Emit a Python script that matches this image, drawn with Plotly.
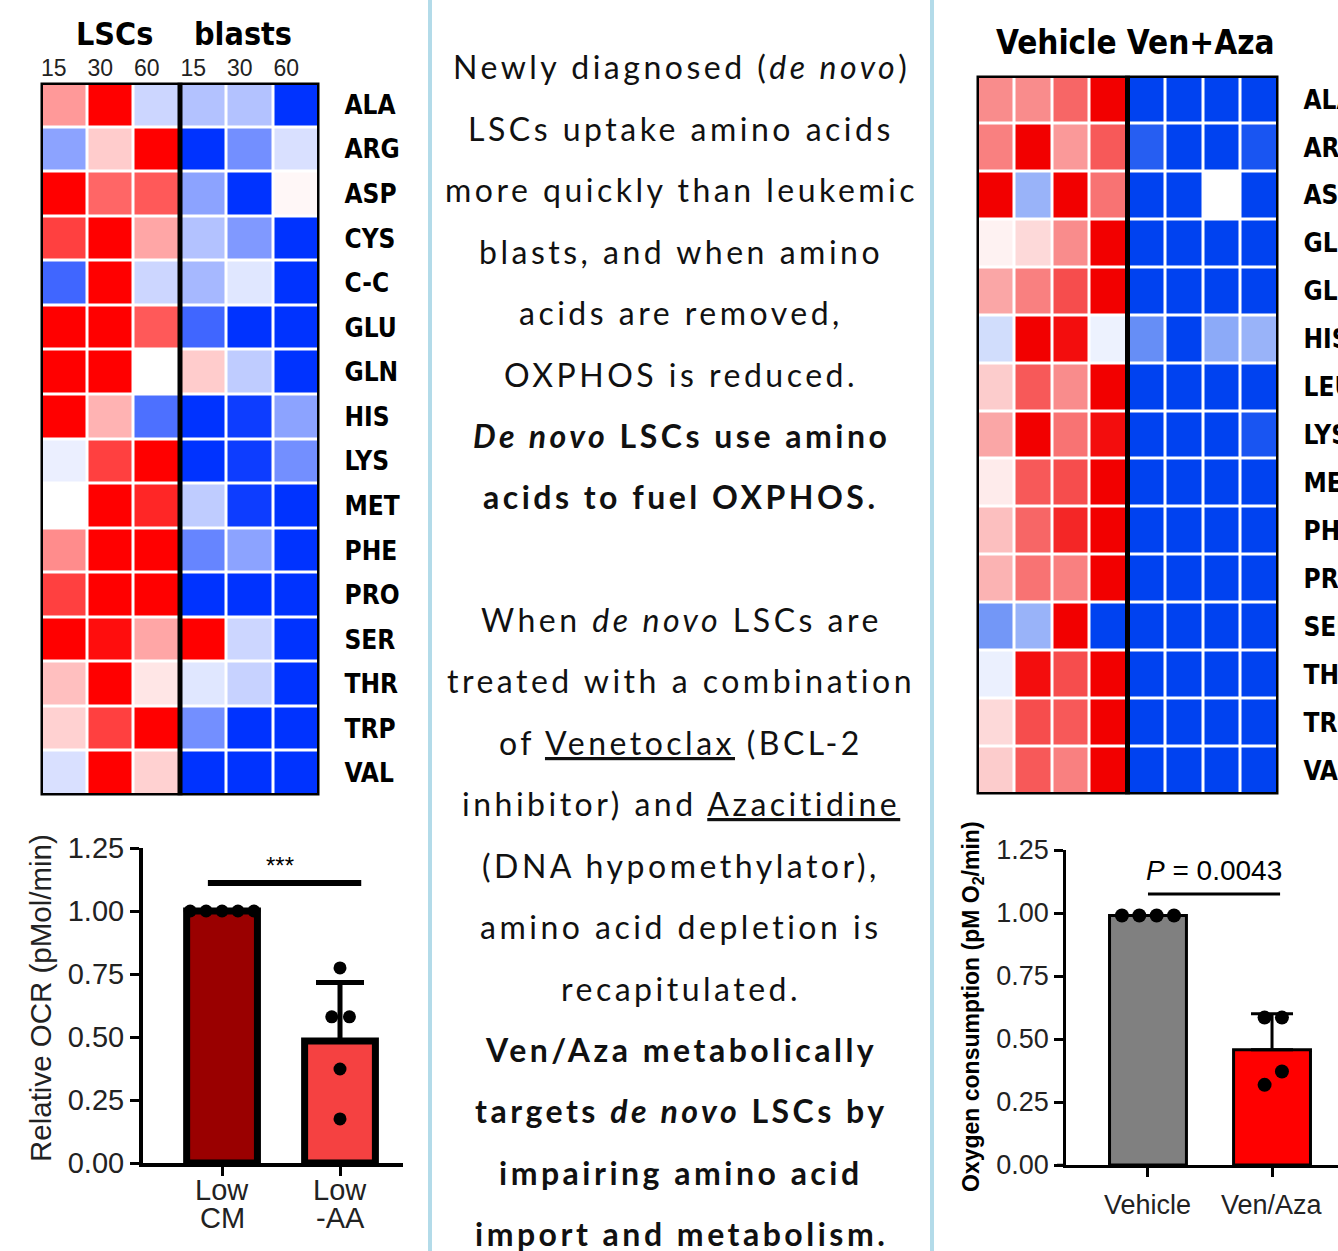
import plotly.graph_objects as go

W, H = 1338, 1251

# ---------------- data ----------------
lsc_rows = ["ALA", "ARG", "ASP", "CYS", "C-C", "GLU", "GLN", "HIS",
            "LYS", "MET", "PHE", "PRO", "SER", "THR", "TRP", "VAL"]
lsc_cols = ["15", "30", "60", "15", "30", "60"]
lsc_groups = ["LSCs", "blasts"]
lsc_values = [
    [0.40, 1.00, -0.20, -0.30, -0.30, -1.00],
    [-0.45, 0.20, 1.00, -1.00, -0.55, -0.15],
    [1.00, 0.60, 0.65, -0.45, -1.00, 0.03],
    [0.75, 1.00, 0.35, -0.30, -0.50, -1.00],
    [-0.75, 1.00, -0.20, -0.35, -0.12, -1.00],
    [1.00, 1.00, 0.65, -0.75, -1.00, -1.00],
    [1.00, 1.00, 0.00, 0.20, -0.25, -1.00],
    [1.00, 0.30, -0.70, -1.00, -0.95, -0.45],
    [-0.08, 0.75, 1.00, -1.00, -0.95, -0.55],
    [0.00, 1.00, 0.85, -0.25, -0.95, -1.00],
    [0.45, 1.00, 1.00, -0.60, -0.45, -1.00],
    [0.75, 1.00, 1.00, -1.00, -1.00, -1.00],
    [1.00, 0.95, 0.35, 1.00, -0.20, -1.00],
    [0.25, 1.00, 0.10, -0.12, -0.22, -1.00],
    [0.18, 0.75, 1.00, -0.55, -1.00, -1.00],
    [-0.15, 1.00, 0.18, -1.00, -1.00, -1.00],
]

trt_rows = ["ALA", "ARG", "ASP", "GLU", "GLN", "HIS", "LEU", "LYS",
            "MET", "PHE", "PRO", "SER", "THR", "TRP", "VAL"]
trt_cols = ["V1", "V2", "V3", "V4", "VA1", "VA2", "VA3", "VA4"]
trt_title = "Vehicle Ven+Aza"
trt_values = [
    [0.45, 0.45, 0.60, 1.00, -1.00, -1.00, -1.00, -1.00],
    [0.50, 1.00, 0.40, 0.65, -0.85, -1.00, -1.00, -0.90],
    [1.00, -0.40, 1.00, 0.55, -1.00, -1.00, 0.00, -1.00],
    [0.05, 0.15, 0.45, 1.00, -1.00, -1.00, -1.00, -1.00],
    [0.35, 0.50, 0.70, 1.00, -1.00, -1.00, -1.00, -1.00],
    [-0.18, 1.00, 0.95, -0.07, -0.60, -1.00, -0.45, -0.40],
    [0.20, 0.65, 0.45, 1.00, -1.00, -1.00, -1.00, -1.00],
    [0.35, 1.00, 0.55, 0.95, -1.00, -1.00, -1.00, -0.90],
    [0.08, 0.65, 0.70, 1.00, -1.00, -1.00, -1.00, -1.00],
    [0.25, 0.60, 0.85, 1.00, -1.00, -1.00, -1.00, -1.00],
    [0.30, 0.55, 0.50, 1.00, -1.00, -1.00, -1.00, -1.00],
    [-0.55, -0.40, 1.00, -1.00, -1.00, -1.00, -1.00, -1.00],
    [-0.08, 0.95, 0.70, 1.00, -1.00, -1.00, -1.00, -1.00],
    [0.15, 0.70, 0.65, 1.00, -1.00, -1.00, -1.00, -1.00],
    [0.20, 0.65, 0.50, 1.00, -1.00, -1.00, -1.00, -1.00],
]

ocr_groups = ["Low<br>CM", "Low<br>-AA"]
ocr_means = [1.00, 0.484]
ocr_sd_upper = [0.0, 0.232]
ocr_points_cm = [1.0, 1.0, 1.0, 1.0, 1.0]
ocr_points_aa = [0.774, 0.58, 0.58, 0.373, 0.175]
ocr_sig = "***"
ocr_ylabel = "Relative OCR (pMol/min)"

o2_groups = ["Vehicle", "Ven/Aza"]
o2_means = [0.99, 0.457]
o2_sd_upper = [0.0, 0.143]
o2_points_vehicle = [0.99, 0.99, 0.99, 0.99]
o2_points_venaza = [0.585, 0.585, 0.371, 0.318]
o2_sig = "<i>P</i> = 0.0043"
o2_ylabel = "<b>Oxygen consumption (pM O<sub>2</sub>/min)</b>"

yticks = [0, 0.25, 0.5, 0.75, 1.0, 1.25]

text_lines = [
    "Newly diagnosed (<i>de novo</i>)",
    "LSCs uptake amino acids",
    "more quickly than leukemic",
    "blasts, and when amino",
    "acids are removed,",
    "OXPHOS is reduced.",
    "<b><i>De novo</i> LSCs use amino</b>",
    "<b>acids to fuel OXPHOS.</b>",
    "",
    "When <i>de novo</i> LSCs are",
    "treated with a combination",
    "of <u>Venetoclax</u> (BCL-2",
    "inhibitor) and <u>Azacitidine</u>",
    "(DNA hypomethylator),",
    "amino acid depletion is",
    "recapitulated.",
    "<b>Ven/Aza metabolically</b>",
    "<b>targets <i>de novo</i> LSCs by</b>",
    "<b>impairing amino acid</b>",
    "<b>import and metabolism.</b>",
]

# jitter offsets of dots (layout only)
jit_cm = [-0.27, -0.135, 0.0, 0.135, 0.27]
jit_aa = [0.0, -0.07, 0.08, 0.0, 0.0]
jit_veh = [-0.21, -0.07, 0.07, 0.21]
jit_va = [-0.06, 0.08, 0.08, -0.06]

# ---------------- helpers ----------------
def fx(px):
    return px / W


def fy(py):
    return 1 - py / H


COND = "DejaVu Sans Condensed, Liberation Sans Narrow, sans-serif"
ARIAL = "Liberation Sans, Arial, sans-serif"
TEXTF = "Lato, Open Sans, sans-serif"

fig = go.Figure()

# ---------------- heatmaps ----------------
fig.add_trace(go.Heatmap(
    z=lsc_values, x=list(range(len(lsc_cols))), y=list(range(len(lsc_rows))),
    zmin=-1, zmax=1, showscale=False, xgap=3, ygap=3,
    colorscale=[[0, "#0033ff"], [0.5, "#ffffff"], [1, "#ff0000"]],
    xaxis="x", yaxis="y", hoverinfo="skip"))

fig.add_trace(go.Heatmap(
    z=trt_values, x=list(range(len(trt_cols))), y=list(range(len(trt_rows))),
    zmin=-1, zmax=1, showscale=False, xgap=3, ygap=3,
    colorscale=[[0, "#0042f0"], [0.5, "#ffffff"], [1, "#f20000"]],
    xaxis="x2", yaxis="y2", hoverinfo="skip"))

# ---------------- left bar chart ----------------
fig.add_trace(go.Bar(
    x=[0, 1], y=ocr_means, width=0.6,
    marker=dict(color=["#9a0000", "#f54141"], line=dict(color="black", width=7)),
    xaxis="x3", yaxis="y3", hoverinfo="skip"))
fig.add_trace(go.Scatter(
    x=[1], y=[ocr_means[1]], mode="markers", marker=dict(size=1, color="rgba(0,0,0,0)"),
    error_y=dict(type="data", symmetric=False, array=[ocr_sd_upper[1]], arrayminus=[0],
                 color="black", thickness=5, width=24),
    xaxis="x3", yaxis="y3", hoverinfo="skip"))
fig.add_trace(go.Scatter(
    x=[0 + j for j in jit_cm] + [1 + j for j in jit_aa],
    y=ocr_points_cm + ocr_points_aa, mode="markers",
    marker=dict(size=13, color="black"), xaxis="x3", yaxis="y3", hoverinfo="skip"))

# ---------------- right bar chart ----------------
fig.add_trace(go.Bar(
    x=[0, 1], y=o2_means, width=0.62,
    marker=dict(color=["#808080", "#ff0000"], line=dict(color="black", width=3)),
    xaxis="x4", yaxis="y4", hoverinfo="skip"))
fig.add_trace(go.Scatter(
    x=[1], y=[o2_means[1]], mode="markers", marker=dict(size=1, color="rgba(0,0,0,0)"),
    error_y=dict(type="data", symmetric=False, array=[o2_sd_upper[1]], arrayminus=[0],
                 color="black", thickness=3, width=21),
    xaxis="x4", yaxis="y4", hoverinfo="skip"))
fig.add_trace(go.Scatter(
    x=[0 + j for j in jit_veh] + [1 + j for j in jit_va],
    y=o2_points_vehicle + o2_points_venaza, mode="markers",
    marker=dict(size=14, color="black"), xaxis="x4", yaxis="y4", hoverinfo="skip"))

# ---------------- axes ----------------
hm_common = dict(showgrid=False, zeroline=False, showline=False, ticks="", automargin=False)
bar_common = dict(showgrid=False, zeroline=False, showline=True, linecolor="black",
                  ticks="outside", ticklen=9, tickcolor="black", automargin=False)

layout = dict(
    width=W, height=H, autosize=False,
    margin=dict(l=0, r=0, t=0, b=0, pad=0),
    paper_bgcolor="white", plot_bgcolor="white",
    showlegend=False,
    xaxis=dict(domain=[fx(40.5), fx(319.5)], range=[-0.5, 5.5], side="top",
               tickvals=list(range(6)), ticktext=lsc_cols,
               tickfont=dict(family=ARIAL, size=23, color="#222"),
               ticklabelshift=-10, ticklabelstandoff=1, **hm_common),
    yaxis=dict(domain=[fy(795.5), fy(82.5)], range=[15.5, -0.5], side="right",
               tickvals=list(range(16)), ticktext=[f"<b>{r}</b>" for r in lsc_rows],
               tickfont=dict(family=COND, size=26, color="black"),
               ticklabelstandoff=24, **hm_common),
    xaxis2=dict(domain=[fx(976.5), fx(1278.5)], range=[-0.5, 7.5],
                showticklabels=False, anchor="y2", **hm_common),
    yaxis2=dict(domain=[fy(794.5), fy(75.5)], range=[14.5, -0.5], side="right",
                anchor="x2", tickvals=list(range(15)),
                ticktext=[f"<b>{r}</b>" for r in trt_rows],
                tickfont=dict(family=COND, size=26, color="black"),
                ticklabelstandoff=24, **hm_common),
    xaxis3=dict(domain=[fx(143), fx(403)], range=[-0.67, 1.534], anchor="y3",
                tickvals=[0, 1], showticklabels=False, linewidth=4, tickwidth=3,
                **bar_common),
    yaxis3=dict(domain=[fy(1163), fy(848)], range=[0, 1.25], anchor="x3",
                tickvals=yticks, ticktext=[f"{v:.2f}" for v in yticks],
                tickfont=dict(family=ARIAL, size=29, color="#222"),
                linewidth=4, tickwidth=3, **bar_common),
    xaxis4=dict(domain=[fx(1066), fx(1338)], range=[-0.661, 1.532], anchor="y4",
                tickvals=[0, 1], showticklabels=False, linewidth=2.5, tickwidth=2.5,
                **bar_common),
    yaxis4=dict(domain=[fy(1165), fy(850)], range=[0, 1.25], anchor="x4",
                tickvals=yticks, ticktext=[f"{v:.2f}" for v in yticks],
                tickfont=dict(family=ARIAL, size=27, color="#222"),
                linewidth=2.5, tickwidth=2.5, **bar_common),
)
fig.update_layout(**layout)

# ---------------- shapes ----------------
shapes = [
    dict(type="line", xref="paper", yref="paper", x0=fx(430), x1=fx(430), y0=0, y1=1,
         line=dict(color="#b3dbe9", width=4)),
    dict(type="line", xref="paper", yref="paper", x0=fx(932), x1=fx(932), y0=0, y1=1,
         line=dict(color="#b3dbe9", width=4)),
    dict(type="rect", xref="x", yref="y", x0=-0.5, x1=5.5, y0=-0.5, y1=15.5,
         line=dict(color="black", width=5)),
    dict(type="line", xref="x", yref="y", x0=2.5, x1=2.5, y0=-0.5, y1=15.5,
         line=dict(color="black", width=5)),
    dict(type="rect", xref="x2", yref="y2", x0=-0.5, x1=7.5, y0=-0.5, y1=14.5,
         line=dict(color="black", width=5)),
    dict(type="line", xref="x2", yref="y2", x0=3.5, x1=3.5, y0=-0.5, y1=14.5,
         line=dict(color="black", width=5)),
    dict(type="line", xref="x3", yref="y3", x0=-0.12, x1=1.18, y0=1.111, y1=1.111,
         line=dict(color="black", width=6)),
    dict(type="line", xref="x4", yref="y4", x0=0.0, x1=1.065, y0=1.075, y1=1.075,
         line=dict(color="black", width=3)),
    dict(type="line", xref="paper", yref="y4", x0=fx(1057), x1=fx(1066), y0=0, y1=0,
         line=dict(color="black", width=2.5)),
]
fig.update_layout(shapes=shapes)

# ---------------- annotations ----------------
def note(text, x, y, size, family, color="black", angle=0, xref="paper", yref="paper"):
    return dict(text=text, x=x, y=y, xref=xref, yref=yref, showarrow=False,
                xanchor="center", yanchor="middle", textangle=angle,
                font=dict(family=family, size=size, color=color))


ann = [
    note(f"<b>{lsc_groups[0]}</b>", fx(114), fy(34), 32, COND),
    note(f"<b>{lsc_groups[1]}</b>", fx(243), fy(34), 32, COND),
    note(f"<b>{trt_title}</b>", fx(1135), fy(43), 33, COND),
    note(ocr_sig, 0.49, 1.18, 24, ARIAL, xref="x3", yref="y3"),
    note(o2_sig, fx(1214), fy(870), 28, ARIAL),
    note(ocr_ylabel, fx(40), fy(998), 29.5, ARIAL, color="#222", angle=-90),
    note(o2_ylabel, fx(972), fy(1007), 23, ARIAL, angle=-90),
]

for i, g in enumerate(ocr_groups):
    for k, part in enumerate(g.split("<br>")):
        ann.append(dict(text=part, x=i, y=fy(1190 + 28 * k), xref="x3", yref="paper",
                        showarrow=False, xanchor="center", yanchor="middle",
                        font=dict(family=ARIAL, size=29, color="#222")))
for i, g in enumerate(o2_groups):
    ann.append(dict(text=g, x=i, y=fy(1205), xref="x4", yref="paper",
                    showarrow=False, xanchor="center", yanchor="middle",
                    font=dict(family=ARIAL, size=27, color="#222")))

line_gap = 61.4
for i, line in enumerate(text_lines):
    if not line:
        continue
    ann.append(note(f'<span style="letter-spacing:3.5px">{line}</span>',
                    fx(681), fy(67 + i * line_gap), 32, TEXTF, color="#111"))

fig.update_layout(annotations=ann)

post = (
    "var gd=document.getElementById('{plot_id}');"
    "document.documentElement.style.margin='0';document.documentElement.style.overflow='hidden';"
    "document.body.style.margin='0';document.body.style.overflow='hidden';"
    "gd.style.position='fixed';gd.style.left='0px';gd.style.top='0px';"
)

fig.write_html("out.html", post_script=post, config={"displayModeBar": False})
